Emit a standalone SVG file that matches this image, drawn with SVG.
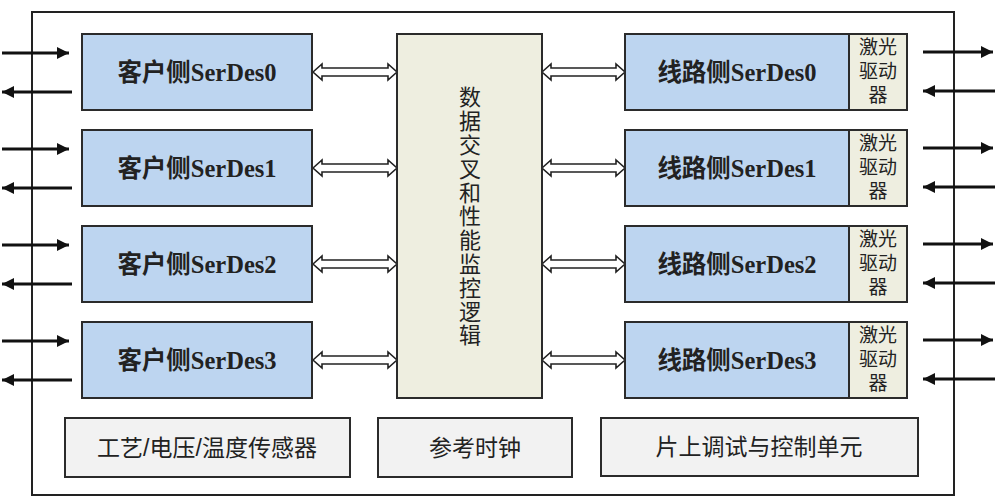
<svg xmlns="http://www.w3.org/2000/svg" width="1000" height="501" viewBox="0 0 1000 501">
<defs>
<style>
.box{stroke:#2b2b2b;stroke-width:2}
.blue{fill:#bdd5f0}
.beige{fill:#eeeee0}
.grey{fill:#f2f2f2}
.lbl{font-family:"Liberation Serif","Noto Sans CJK SC",serif;font-weight:bold;font-size:24.5px;fill:#222;text-anchor:middle;dominant-baseline:central}
.cjk{font-family:"Noto Sans CJK SC",sans-serif;fill:#222;text-anchor:middle;dominant-baseline:central}
.las{font-family:"Liberation Sans","Noto Sans CJK SC",sans-serif;font-size:19px;fill:#222;text-anchor:middle;dominant-baseline:central}
.bot{font-family:"Liberation Sans","Noto Sans CJK SC",sans-serif;font-size:23px;fill:#222;text-anchor:middle;dominant-baseline:central}
.dbl{fill:#fff;stroke:#222;stroke-width:1.6;stroke-linejoin:miter}
.ext{stroke:#111;stroke-width:3;fill:none}
</style>
<marker id="ah" viewBox="0 0 10 10" refX="10" refY="5" markerWidth="5" markerHeight="4" markerUnits="strokeWidth" orient="auto">
<path d="M0,0 L10,5 L0,10 z" fill="#111"/>
</marker>
<path id="dblL" d="M0,0 L9,-8 L9,-4 L75,-4 L75,-8 L84,0 L75,8 L75,4 L9,4 L9,8 z"/>
<path id="dblR" d="M0,0 L9,-8 L9,-4 L74,-4 L74,-8 L83,0 L74,8 L74,4 L9,4 L9,8 z"/>
</defs>
<rect width="1000" height="501" fill="#fff"/>
<g id="outer"><rect x="32" y="12" width="922" height="483" fill="#fff" stroke="#222" stroke-width="2"/></g>

<g id="connectors">
<line class="ext" x1="2" y1="53" x2="69" y2="53" marker-end="url(#ah)"/>
<line class="ext" x1="72" y1="92" x2="2" y2="92" marker-end="url(#ah)"/>
<line class="ext" x1="2" y1="149" x2="69" y2="149" marker-end="url(#ah)"/>
<line class="ext" x1="72" y1="188" x2="2" y2="188" marker-end="url(#ah)"/>
<line class="ext" x1="2" y1="245" x2="69" y2="245" marker-end="url(#ah)"/>
<line class="ext" x1="72" y1="284" x2="2" y2="284" marker-end="url(#ah)"/>
<line class="ext" x1="2" y1="341" x2="69" y2="341" marker-end="url(#ah)"/>
<line class="ext" x1="72" y1="380" x2="2" y2="380" marker-end="url(#ah)"/>
<line class="ext" x1="923" y1="52" x2="993" y2="52" marker-end="url(#ah)"/>
<line class="ext" x1="995" y1="91" x2="923" y2="91" marker-end="url(#ah)"/>
<line class="ext" x1="923" y1="148" x2="993" y2="148" marker-end="url(#ah)"/>
<line class="ext" x1="995" y1="187" x2="923" y2="187" marker-end="url(#ah)"/>
<line class="ext" x1="923" y1="244" x2="993" y2="244" marker-end="url(#ah)"/>
<line class="ext" x1="995" y1="283" x2="923" y2="283" marker-end="url(#ah)"/>
<line class="ext" x1="923" y1="340" x2="993" y2="340" marker-end="url(#ah)"/>
<line class="ext" x1="995" y1="379" x2="923" y2="379" marker-end="url(#ah)"/>
<use href="#dblL" class="dbl" x="313" y="72"/>
<use href="#dblL" class="dbl" x="313" y="168"/>
<use href="#dblL" class="dbl" x="313" y="264"/>
<use href="#dblL" class="dbl" x="313" y="360"/>
<use href="#dblR" class="dbl" x="542" y="72"/>
<use href="#dblR" class="dbl" x="542" y="168"/>
<use href="#dblR" class="dbl" x="542" y="264"/>
<use href="#dblR" class="dbl" x="542" y="360"/>
</g>

<g id="client0"><rect class="box blue" x="82" y="34" width="230" height="76"/><text class="lbl" x="197" y="72">客户侧SerDes0</text></g>
<g id="client1"><rect class="box blue" x="82" y="130" width="230" height="76"/><text class="lbl" x="197" y="168">客户侧SerDes1</text></g>
<g id="client2"><rect class="box blue" x="82" y="226" width="230" height="76"/><text class="lbl" x="197" y="264">客户侧SerDes2</text></g>
<g id="client3"><rect class="box blue" x="82" y="322" width="230" height="76"/><text class="lbl" x="197" y="360">客户侧SerDes3</text></g>

<g id="crossbar"><rect class="box beige" x="397" y="34" width="145" height="364"/>
<text class="cjk" font-size="22" x="470" y="217" writing-mode="vertical-rl" text-orientation="upright" letter-spacing="1.8">数据交叉和性能监控逻辑</text></g>

<g id="line0"><rect class="box blue" x="625" y="34" width="224" height="76"/><text class="lbl" x="737" y="72">线路侧SerDes0</text>
<rect class="box beige" x="849" y="34" width="58" height="76"/><text class="las"><tspan x="878" y="47">激光</tspan><tspan x="878" y="71">驱动</tspan><tspan x="878" y="95">器</tspan></text></g>
<g id="line1"><rect class="box blue" x="625" y="130" width="224" height="76"/><text class="lbl" x="737" y="168">线路侧SerDes1</text>
<rect class="box beige" x="849" y="130" width="58" height="76"/><text class="las"><tspan x="878" y="143">激光</tspan><tspan x="878" y="167">驱动</tspan><tspan x="878" y="191">器</tspan></text></g>
<g id="line2"><rect class="box blue" x="625" y="226" width="224" height="76"/><text class="lbl" x="737" y="264">线路侧SerDes2</text>
<rect class="box beige" x="849" y="226" width="58" height="76"/><text class="las"><tspan x="878" y="239">激光</tspan><tspan x="878" y="263">驱动</tspan><tspan x="878" y="287">器</tspan></text></g>
<g id="line3"><rect class="box blue" x="625" y="322" width="224" height="76"/><text class="lbl" x="737" y="360">线路侧SerDes3</text>
<rect class="box beige" x="849" y="322" width="58" height="76"/><text class="las"><tspan x="878" y="335">激光</tspan><tspan x="878" y="359">驱动</tspan><tspan x="878" y="383">器</tspan></text></g>

<g id="sensor"><rect class="box grey" x="65" y="418" width="285" height="59"/><text class="bot" x="207" y="448">工艺/电压/温度传感器</text></g>
<g id="refclk"><rect class="box grey" x="378" y="418" width="194" height="59"/><text class="bot" x="475" y="448">参考时钟</text></g>
<g id="debug"><rect class="box grey" x="601" y="418" width="317" height="58"/><text class="bot" x="759" y="447">片上调试与控制单元</text></g>
</svg>
